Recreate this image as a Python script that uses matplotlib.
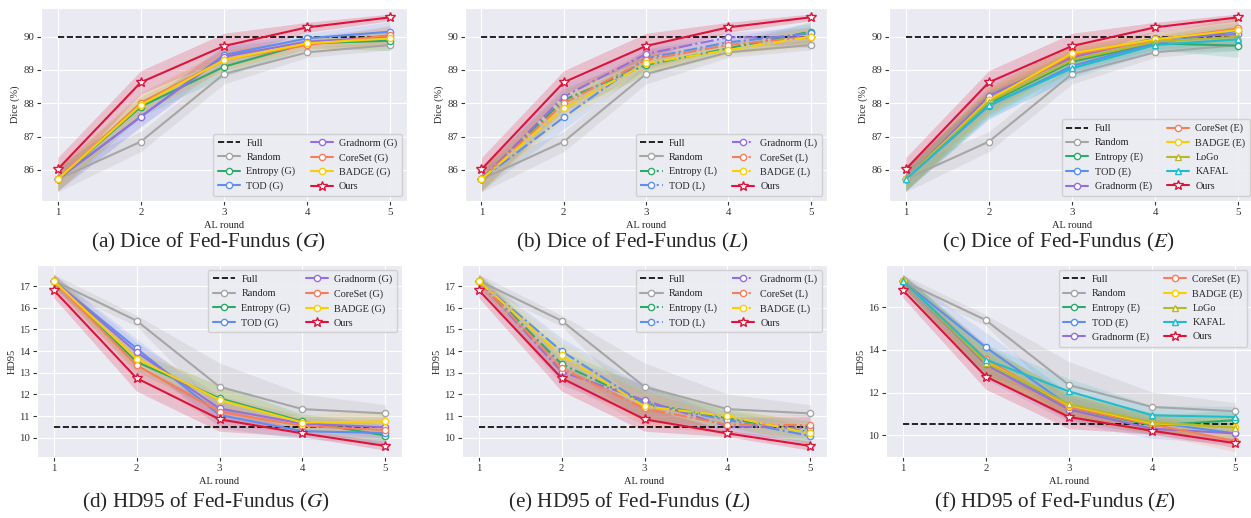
import matplotlib
matplotlib.use('Agg')
import matplotlib.pyplot as plt
import seaborn as sns
import numpy as np

sns.set_style('darkgrid')
plt.rcParams['font.family'] = ['Liberation Serif', 'DejaVu Serif']
plt.rcParams['mathtext.fontset'] = 'stix'
plt.rcParams['xtick.bottom'] = True
plt.rcParams['ytick.left'] = True
plt.rcParams['xtick.major.size'] = 3
plt.rcParams['ytick.major.size'] = 3
plt.rcParams['xtick.color'] = '#333333'
plt.rcParams['ytick.color'] = '#333333'

rounds = [1, 2, 3, 4, 5]
full_dice = 90.0
full_hd = 10.5

# Dice, shared baselines
dice_random = [85.72, 86.85, 88.88, 89.53, 89.75]
dice_random_sd = [0.38, 0.3, 0.3, 0.15, 0.15]
dice_ours = [86.02, 88.63, 89.72, 90.28, 90.58]
dice_ours_sd = [0.35, 0.35, 0.38, 0.15, 0.1]

# Dice (G)
dice_g = {
    'Entropy (G)': [85.72, 87.9, 89.1, 89.8, 89.88],
    'TOD (G)': [85.72, 87.6, 89.45, 89.95, 90.15],
    'Gradnorm (G)': [85.72, 87.6, 89.4, 89.85, 90.0],
    'CoreSet (G)': [85.72, 88.02, 89.3, 89.75, 90.05],
    'BADGE (G)': [85.72, 87.95, 89.3, 89.8, 89.95],
}
dice_g_sd = [0.35, 0.3, 0.3, 0.15, 0.3]

# Dice (L)
dice_l = {
    'Entropy (L)': [85.72, 88.1, 89.15, 89.65, 90.15],
    'TOD (L)': [85.72, 87.58, 89.35, 89.83, 90.1],
    'Gradnorm (L)': [85.72, 88.2, 89.48, 89.98, 89.98],
    'CoreSet (L)': [85.72, 88.0, 89.3, 89.75, 90.0],
    'BADGE (L)': [85.72, 87.85, 89.2, 89.6, 90.0],
}
dice_l_sd = [0.35, 0.35, 0.3, 0.15, 0.3]

# Dice (E)
dice_e = {
    'Entropy (E)': [85.72, 88.0, 89.25, 89.8, 89.73],
    'TOD (E)': [85.72, 87.92, 89.12, 89.8, 90.18],
    'Gradnorm (E)': [85.72, 88.22, 89.38, 89.95, 90.08],
    'CoreSet (E)': [85.72, 88.1, 89.45, 89.9, 90.25],
    'BADGE (E)': [85.72, 88.1, 89.5, 89.92, 90.2],
    'LoGo': [85.72, 88.05, 89.3, 89.85, 90.0],
    'KAFAL': [85.72, 87.95, 89.05, 89.75, 89.92],
}
dice_e_sd = [0.35, 0.4, 0.3, 0.2, 0.35]

# HD95, shared baselines
hd_random = [17.25, 15.4, 12.35, 11.32, 11.12]
hd_random_sd = [0.3, 0.25, 1.1, 0.7, 0.4]
hd_ours = [16.82, 12.75, 10.85, 10.2, 9.62]
hd_ours_sd = [0.35, 0.6, 0.55, 0.15, 0.2]

# HD95 (G)
hd_g = {
    'Entropy (G)': [17.25, 13.5, 11.82, 10.75, 10.1],
    'TOD (G)': [17.25, 14.12, 11.05, 10.3, 10.22],
    'Gradnorm (G)': [17.25, 13.95, 11.35, 10.65, 10.48],
    'CoreSet (G)': [17.25, 13.35, 11.2, 10.55, 10.35],
    'BADGE (G)': [17.25, 13.65, 11.75, 10.7, 10.75],
}
hd_g_sd = [0.3, 0.45, 0.6, 0.35, 0.5]

# HD95 (L)
hd_l = {
    'Entropy (L)': [17.25, 13.4, 11.6, 10.9, 10.25],
    'TOD (L)': [17.25, 14.0, 11.55, 10.82, 10.08],
    'Gradnorm (L)': [17.25, 13.05, 11.72, 10.52, 10.45],
    'CoreSet (L)': [17.25, 13.2, 11.35, 10.6, 10.58],
    'BADGE (L)': [17.25, 13.8, 11.45, 11.0, 10.2],
}
hd_l_sd = [0.3, 0.6, 0.8, 0.4, 0.5]

# HD95 (E)
hd_e = {
    'Entropy (E)': [17.25, 13.5, 11.3, 10.45, 10.7],
    'TOD (E)': [17.25, 14.12, 11.38, 10.6, 10.08],
    'Gradnorm (E)': [17.25, 13.32, 11.2, 10.3, 10.08],
    'CoreSet (E)': [17.25, 13.58, 11.3, 10.5, 9.72],
    'BADGE (E)': [17.25, 13.45, 11.4, 10.55, 10.38],
    'LoGo': [17.25, 13.4, 11.45, 10.6, 10.35],
    'KAFAL': [17.25, 13.55, 12.05, 10.93, 10.85],
}
hd_e_sd = [0.3, 0.7, 0.6, 0.45, 0.5]

colors = {
    'Random': '#a6a6a6', 'Entropy': '#2eab6a', 'TOD': '#5b8ff0',
    'Gradnorm': '#9370e0', 'CoreSet': '#f77e58', 'BADGE': '#f8d000',
    'LoGo': '#b8b82a', 'KAFAL': '#20bcd0', 'Ours': '#dc143c',
}

captions = [
    '(a) Dice of Fed-Fundus ($G$)', '(b) Dice of Fed-Fundus ($L$)', '(c) Dice of Fed-Fundus ($E$)',
    '(d) HD95 of Fed-Fundus ($G$)', '(e) HD95 of Fed-Fundus ($L$)', '(f) HD95 of Fed-Fundus ($E$)',
]

W, H = 1251, 518
fig = plt.figure(figsize=(W / 100, H / 100), dpi=100)

# axes boxes in pixels: left, top, right, bottom
boxes = [
    (41, 8, 407, 201), (465, 8, 827, 201), (889, 8, 1255, 201),
    (37, 265, 402, 457), (462, 265, 827, 457), (886, 265, 1252, 457),
]
# caption centres in pixels
cap_pos = [(208, 242), (632, 242), (1058, 242), (206, 502), (630, 502), (1055, 502)]

panels = [
    (dice_g, dice_g_sd, '-', 'dice'), (dice_l, dice_l_sd, '-.', 'dice'), (dice_e, dice_e_sd, '-', 'dice'),
    (hd_g, hd_g_sd, '-', 'hd'), (hd_l, hd_l_sd, '-.', 'hd'), (hd_e, hd_e_sd, '-', 'hd'),
]

for i, (methods, sd, ls, kind) in enumerate(panels):
    l, t, r, b = boxes[i]
    ax = fig.add_axes([l / W, 1 - b / H, (r - l) / W, (b - t) / H])
    x = np.array(rounds)

    if kind == 'dice':
        full, rnd, rnd_sd, ours, ours_sd = full_dice, dice_random, dice_random_sd, dice_ours, dice_ours_sd
    else:
        full, rnd, rnd_sd, ours, ours_sd = full_hd, hd_random, hd_random_sd, hd_ours, hd_ours_sd

    ax.plot([1, 5], [full, full], '--', color='black', lw=1.2, label='Full', zorder=3)

    ax.fill_between(x, np.array(rnd) - rnd_sd, np.array(rnd) + rnd_sd, color=colors['Random'], alpha=0.2, lw=0)
    ax.plot(x, rnd, '-', color=colors['Random'], lw=1.5, marker='o', ms=4.5,
            mfc='white', mec=colors['Random'], label='Random', zorder=4)

    for name, vals in methods.items():
        c = colors[name.split(' ')[0]]
        mk = '^' if name in ('LoGo', 'KAFAL') else 'o'
        v = np.array(vals)
        ax.fill_between(x, v - np.array(sd), v + np.array(sd), color=c, alpha=0.15, lw=0)
        ax.plot(x, v, ls, color=c, lw=1.5, marker=mk, ms=4.5, mfc='white', mec=c,
                label=name, zorder=4)

    ax.fill_between(x, np.array(ours) - ours_sd, np.array(ours) + ours_sd, color=colors['Ours'], alpha=0.2, lw=0)
    ax.plot(x, ours, '-', color=colors['Ours'], lw=1.5, marker='*', ms=7,
            mfc='white', mec=colors['Ours'], label='Ours', zorder=5)

    ax.set_xlim(0.8, 5.2)
    ax.set_xticks(rounds)
    if kind == 'dice':
        ax.set_ylim(85.07, 90.86)
        ax.set_yticks([86, 87, 88, 89, 90])
        ax.set_ylabel('Dice (%)', fontsize=7.5, labelpad=2)
        loc = 'lower right'
    else:
        if i == 5:
            ax.set_ylim(8.97, 17.99)
            ax.set_yticks([10, 12, 14, 16])
        else:
            ax.set_ylim(9.11, 17.97)
            ax.set_yticks([10, 11, 12, 13, 14, 15, 16, 17])
        ax.set_ylabel('HD95', fontsize=7.5, labelpad=2)
        loc = 'upper right'
    ax.set_xlabel('AL round', fontsize=7.5, labelpad=3)
    ax.tick_params(labelsize=7.8, pad=2, width=0.8)

    leg = ax.legend(loc=loc, ncol=2, fontsize=7.3, frameon=True, facecolor='#ececf2',
                    edgecolor='#cccccc', framealpha=0.85, handlelength=2.2,
                    columnspacing=1.5, labelspacing=0.5, borderpad=0.45,
                    handletextpad=0.6)

    cx, cy = cap_pos[i]
    fig.text(cx / W, 1 - cy / H, captions[i], ha='center', va='center', fontsize=15.3)

plt.savefig('out.png', dpi=100)
